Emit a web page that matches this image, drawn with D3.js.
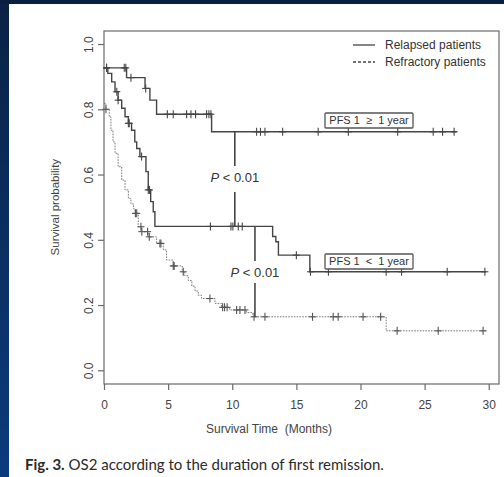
<!DOCTYPE html>
<html>
<head>
<meta charset="utf-8">
<script src="https://cdn.jsdelivr.net/npm/d3@7"></script>
<style>
  body { margin: 0; background: #fff; }
  svg { display: block; }
</style>
</head>
<body>
<script>
// -- Kaplan-Meier curves (time in months, survival) --
var relHighT = [0, 1.76, 3.2, 3.58, 4.1, 8.39, 27.5];
var relHighS = [0.927, 0.897, 0.864, 0.828, 0.785, 0.731, 0.731];
var relHighCens = [0.2, 1.58, 1.7, 2.1, 3.25, 4.94, 5.4, 6.44, 6.78, 7.14, 8.0, 8.18, 8.34,
                   11.9, 12.2, 12.55, 13.93, 16.7, 19.05, 22.9, 25.67, 26.4, 27.3];

var relLowT = [0, 0.3, 0.6, 0.86, 1.1, 1.38, 1.64, 1.9, 2.15, 2.4, 2.55, 2.8, 3.27, 3.45, 3.64, 3.84, 3.97,
               13.15, 13.4, 13.6, 16.05, 29.8];
var relLowS = [0.927, 0.91, 0.884, 0.854, 0.828, 0.803, 0.777, 0.757, 0.736, 0.70, 0.68, 0.655, 0.609, 0.553, 0.517, 0.486, 0.441,
               0.41, 0.394, 0.353, 0.302, 0.302];
var relLowCens = [0.2, 1.0, 1.1, 1.9, 1.97, 2.93, 3.45, 3.55, 8.3, 9.9, 10.05, 10.47, 10.78,
                  15.0, 16.1, 17.5, 22.0, 23.2, 26.76, 29.7];

var refT = [0, 0.15, 0.41, 0.54, 0.7, 0.86, 1.1, 1.38, 1.64, 1.9, 2.1, 2.3, 2.42, 2.67, 2.93, 3.45, 4.1, 4.62, 4.88,
            5.4, 6.1, 6.3, 6.57, 6.85, 7.1, 7.35, 7.6, 8.65, 9.17, 9.8, 11.1, 11.6, 22.0, 29.8];
var refS = [0.818, 0.80, 0.777, 0.736, 0.70, 0.665, 0.624, 0.583, 0.553, 0.527, 0.51, 0.495, 0.481, 0.44, 0.425, 0.409, 0.389, 0.369, 0.338,
            0.32, 0.302, 0.29, 0.275, 0.258, 0.243, 0.23, 0.22, 0.205, 0.193, 0.185, 0.177, 0.164, 0.121, 0.121];
var refCens = [0.15, 2.45, 2.55, 2.88, 2.95, 3.4, 3.53, 4.36, 4.44, 5.4, 5.47, 6.18, 8.26, 9.25, 9.4, 9.6,
               10.34, 10.6, 10.99, 11.7, 12.55, 16.26, 17.87, 18.26, 20.2, 21.57, 22.86, 26.06, 29.56];

var xTicks = [0, 5, 10, 15, 20, 25, 30];
var yTicks = [0, 0.2, 0.4, 0.6, 0.8, 1.0];
var legendLabels = ["Relapsed patients", "Refractory patients"];
var pfsLabels = ["PFS 1  \u2265  1 year", "PFS 1  <  1 year"];

var W = 504, H = 477;
var svg = d3.select("body").append("svg").attr("width", W).attr("height", H);

// -- dark blue page frame --
var defs = svg.append("defs");
var grad = defs.append("linearGradient").attr("id", "side")
    .attr("x1", 0).attr("y1", 0).attr("x2", 0).attr("y2", 1);
grad.append("stop").attr("offset", "0%").attr("stop-color", "#0a2244");
grad.append("stop").attr("offset", "100%").attr("stop-color", "#0c3b7c");
svg.append("rect").attr("x", 0).attr("y", 0).attr("width", 9).attr("height", H).attr("fill", "url(#side)");
svg.append("rect").attr("x", 0).attr("y", 0).attr("width", W).attr("height", 4).attr("fill", "#08203f");

var x = d3.scaleLinear().domain([0, 30.8]).range([104, 499]);
var y = d3.scaleLinear().domain([-0.042, 1.04]).range([384, 31]);

var ink = "#454545";
var font = "Liberation Sans, Arial, sans-serif";

// box
svg.append("rect")
    .attr("x", x(0)).attr("y", y(1.04))
    .attr("width", x(30.8) - x(0)).attr("height", y(-0.042) - y(1.04))
    .attr("fill", "none").attr("stroke", "#6a6a6a").attr("stroke-width", 1.2);

// axes
var xAxis = svg.append("g").attr("transform", "translate(0," + y(-0.042) + ")")
    .call(d3.axisBottom(x).tickValues(xTicks).tickSize(6).tickPadding(10).tickFormat(d3.format("d")));
var yAxis = svg.append("g").attr("transform", "translate(" + x(0) + ",0)")
    .call(d3.axisLeft(y).tickValues(yTicks).tickSize(6).tickFormat(d3.format(".1f")));
[xAxis, yAxis].forEach(function(a) {
    a.select(".domain").remove();
    a.selectAll("line").attr("stroke", "#6a6a6a").attr("stroke-width", 1.2);
    a.selectAll("text").attr("fill", "#444").style("font-family", font).style("font-size", "12px");
});
yAxis.selectAll("text")
    .attr("transform", "translate(-15,0) rotate(-90)")
    .attr("x", 0).attr("dy", "0.35em").attr("text-anchor", "middle");

svg.append("text")
    .attr("x", 269).attr("y", 433)
    .attr("text-anchor", "middle").attr("fill", "#444")
    .style("font-family", font).style("font-size", "12px")
    .style("white-space", "pre")
    .text("Survival Time  (Months)");
svg.append("text")
    .attr("transform", "translate(59," + y(0.5) + ") rotate(-90)")
    .attr("text-anchor", "middle").attr("fill", "#444")
    .style("font-family", font).style("font-size", "11.5px")
    .text("Survival probability");

// -- curves --
function stepAt(T, S, t) {
    var i = d3.bisectRight(T, t) - 1;
    return S[Math.max(0, i)];
}
var line = d3.line().curve(d3.curveStepAfter)
    .x(function(d) { return x(d[0]); })
    .y(function(d) { return y(d[1]); });

function drawCurve(T, S, cens, style) {
    var pts = T.map(function(t, i) { return [t, S[i]]; });
    svg.append("path").datum(pts)
        .attr("d", line)
        .attr("fill", "none")
        .attr("stroke", style.color)
        .attr("stroke-width", style.width)
        .attr("stroke-dasharray", style.dash);
    var g = svg.append("g").attr("stroke", style.markColor).attr("stroke-width", 1.1);
    cens.forEach(function(t) {
        var cx = x(t), cy = y(stepAt(T, S, t));
        g.append("line").attr("x1", cx).attr("x2", cx).attr("y1", cy - 4).attr("y2", cy + 4);
        g.append("line").attr("x1", cx - 3.5).attr("x2", cx + 3.5).attr("y1", cy).attr("y2", cy);
    });
}
drawCurve(refT, refS, refCens, {color: "#7a7a7a", width: 1, dash: "1.6,1.2", markColor: "#555"});
drawCurve(relLowT, relLowS, relLowCens, {color: ink, width: 1.4, dash: null, markColor: ink});
drawCurve(relHighT, relHighS, relHighCens, {color: ink, width: 1.4, dash: null, markColor: ink});

// -- P value brackets --
function pLine(t, sTop, sBot, gapTop, gapBot, labelY) {
    svg.append("line").attr("x1", x(t)).attr("x2", x(t)).attr("y1", y(sTop)).attr("y2", gapTop)
        .attr("stroke", ink).attr("stroke-width", 1.6);
    svg.append("line").attr("x1", x(t)).attr("x2", x(t)).attr("y1", gapBot).attr("y2", y(sBot))
        .attr("stroke", ink).attr("stroke-width", 1.6);
    var txt = svg.append("text").attr("x", x(t)).attr("y", labelY).attr("dy", "0.35em")
        .attr("text-anchor", "middle").attr("fill", "#333")
        .style("font-family", font).style("font-size", "13px");
    txt.append("tspan").style("font-style", "italic").text("P");
    txt.append("tspan").text(" < 0.01");
}
pLine(10.2, 0.731, 0.441, 166, 192, 177);
pLine(11.77, 0.441, 0.164, 261, 283, 272);

// -- PFS labels in boxes --
function pfsBox(label, bx, by) {
    var g = svg.append("g");
    g.append("rect").attr("x", bx).attr("y", by).attr("width", 88).attr("height", 15)
        .attr("fill", "#fff").attr("stroke", "#555").attr("stroke-width", 1.3).attr("rx", 1);
    g.append("text").attr("x", bx + 44).attr("y", by + 7.5).attr("dy", "0.35em")
        .attr("text-anchor", "middle").attr("fill", "#333")
        .style("font-family", font).style("font-size", "11px")
        .style("white-space", "pre")
        .text(label);
}
pfsBox(pfsLabels[0], 325, 113);
pfsBox(pfsLabels[1], 325, 254);

// -- legend --
var leg = svg.append("g");
legendLabels.forEach(function(lab, i) {
    var ly = 45 + i * 17;
    leg.append("line").attr("x1", 353).attr("x2", 375).attr("y1", ly).attr("y2", ly)
        .attr("stroke", ink).attr("stroke-width", 1.3)
        .attr("stroke-dasharray", i === 1 ? "3,2" : null);
    leg.append("text").attr("x", 385).attr("y", ly).attr("dy", "0.35em").attr("fill", "#333")
        .style("font-family", font).style("font-size", "12px")
        .text(lab);
});

// -- caption --
var cap = svg.append("text").attr("x", 25).attr("y", 470).attr("fill", "#2b2b2b")
    .style("font-family", "Lato, 'Noto Sans', sans-serif").style("font-size", "15px");
cap.append("tspan").style("font-weight", "bold").text("Fig. 3.");
cap.append("tspan").text(" OS2 according to the duration of first remission.");
</script>
</body>
</html>
